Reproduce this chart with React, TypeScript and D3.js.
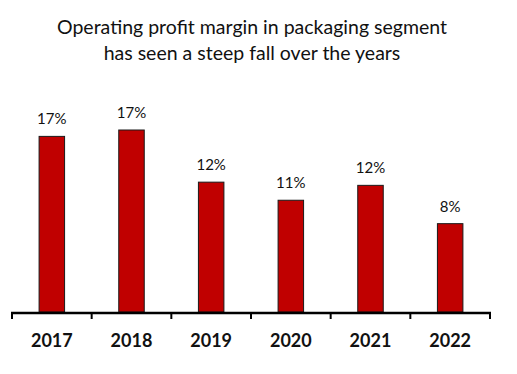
import React, { useRef, useEffect } from "react";
import * as d3 from "d3";

const years = ["2017", "2018", "2019", "2020", "2021", "2022"];
const margins = [16.5, 17.1, 12.2, 10.5, 11.9, 8.3];
const marginLabels = ["17%", "17%", "12%", "11%", "12%", "8%"];
const titleLines = [
  "Operating profit margin in packaging segment",
  "has seen a steep fall over the years",
];

const width = 517;
const height = 374;

const App = () => {
  const ref: any = useRef();

  useEffect(() => {
    const svg = d3.select(ref.current);
    svg.selectAll("*").remove();

    const baseline = 312;
    const x = d3.scaleBand().domain(years).range([12, 490]).padding(0);
    const y = d3.scaleLinear().domain([0, 17.1]).range([baseline, 130]);
    const barW = x.bandwidth() * 0.32;

    // title
    svg
      .append("g")
      .selectAll("text")
      .data(titleLines)
      .enter()
      .append("text")
      .attr("x", 252)
      .attr("y", (d, i) => 34 + i * 26)
      .attr("text-anchor", "middle")
      .attr("font-family", "Lato, sans-serif")
      .attr("font-size", 19.5)
      .attr("fill", "#111")
      .text((d) => d);

    const data = years.map((yr, i) => ({ yr, v: margins[i], label: marginLabels[i] }));

    // bars
    svg
      .selectAll(".bar")
      .data(data)
      .enter()
      .append("rect")
      .attr("class", "bar")
      .attr("x", (d: any) => x(d.yr)! + x.bandwidth() / 2 - barW / 2)
      .attr("y", (d: any) => y(d.v))
      .attr("width", barW)
      .attr("height", (d: any) => baseline - y(d.v))
      .attr("fill", "#C00000")
      .attr("stroke", "#1a1a1a")
      .attr("stroke-width", 1);

    // value labels
    svg
      .selectAll(".val")
      .data(data)
      .enter()
      .append("text")
      .attr("class", "val")
      .attr("x", (d: any) => x(d.yr)! + x.bandwidth() / 2)
      .attr("y", (d: any) => y(d.v) - 12)
      .attr("text-anchor", "middle")
      .attr("font-family", "Lato, sans-serif")
      .attr("font-size", 15)
      .attr("fill", "#111")
      .text((d: any) => d.label);

    // axis line with ticks at band edges
    const edges = years.map((yr) => x(yr)!).concat([490]);
    const axis = svg.append("g");
    axis
      .append("line")
      .attr("x1", 11)
      .attr("x2", 491)
      .attr("y1", baseline + 1)
      .attr("y2", baseline + 1)
      .attr("stroke", "#000")
      .attr("stroke-width", 2.5);
    axis
      .selectAll(".tick")
      .data(edges)
      .enter()
      .append("line")
      .attr("x1", (d) => d)
      .attr("x2", (d) => d)
      .attr("y1", baseline)
      .attr("y2", baseline + 7)
      .attr("stroke", "#000")
      .attr("stroke-width", 2);

    svg
      .selectAll(".yr")
      .data(years)
      .enter()
      .append("text")
      .attr("class", "yr")
      .attr("x", (d) => x(d)! + x.bandwidth() / 2)
      .attr("y", 347)
      .attr("text-anchor", "middle")
      .attr("font-family", "Lato, sans-serif")
      .attr("font-weight", "bold")
      .attr("font-size", 18)
      .attr("fill", "#111")
      .text((d) => d);
  }, []);

  return (
    <svg
      ref={ref}
      width={width}
      height={height}
      style={{ position: "absolute", left: 0, top: 0, background: "#fff" }}
    ></svg>
  );
};

export default App;
